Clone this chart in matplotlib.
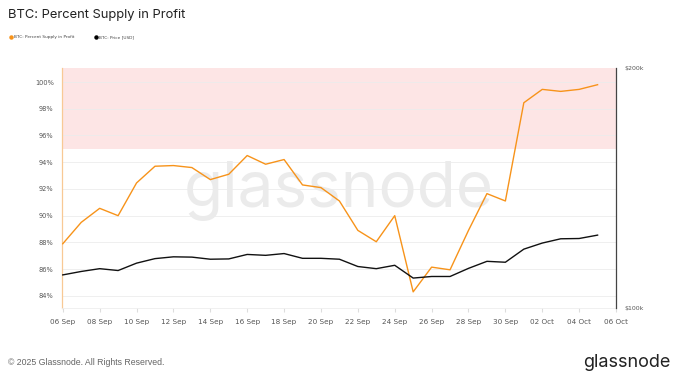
## ============================================================
## BTC: Percent Supply in Profit (glassnode style chart)
## ============================================================
import pandas as pd
import numpy as np
import matplotlib.pyplot as plt
import matplotlib.dates as mdates
from matplotlib.lines import Line2D
from matplotlib.ticker import NullLocator, FixedLocator

## ------------------------------------------------------------
## data (daily, 06 Sep -> 05 Oct)
## ------------------------------------------------------------
dates = pd.date_range("2025-09-06", "2025-10-05", freq="D")

supply_profit = [87.9, 89.5, 90.55, 90.0, 92.45, 93.7, 93.75, 93.6, 92.7, 93.1,
                 94.5, 93.85, 94.2, 92.3, 92.1, 91.1, 88.9, 88.05, 90.0, 84.3,
                 86.15, 85.95, 88.9, 91.65, 91.1, 98.45, 99.45, 99.3, 99.45, 99.8]

btc_price = [110.0, 111.1, 112.0, 111.4, 113.8, 115.3, 115.9, 115.8, 115.1, 115.2,
             116.7, 116.4, 117.0, 115.4, 115.4, 115.1, 112.7, 112.0, 113.1, 109.0,
             109.5, 109.5, 112.1, 114.4, 114.1, 118.5, 120.6, 122.1, 122.2, 123.4]
btc_price = [p * 1000 for p in btc_price]

pct_ticks    = [84, 86, 88, 90, 92, 94, 96, 98, 100]
price_ticks  = [100000, 200000]
price_labels = ["$100k", "$200k"]
legend_labels = ["BTC: Percent Supply in Profit", "BTC: Price [USD]"]

ORANGE = "#f7931a"
GREY   = "#555555"

## ------------------------------------------------------------
## figure
## ------------------------------------------------------------
fig = plt.figure(figsize=(6.86, 3.82), dpi=100)
ax = fig.add_axes([0.0904, 0.194, 0.8076, 0.628])

# red zone (> 95%)
ax.axhspan(95, 101.05, color="#fde5e5", zorder=0, lw=0)

# watermark, behind the lines
ax.text(0.494, 0.503, "glassnode", transform=fig.transFigure, fontsize=46,
        color="#ebebeb", ha="center", va="center", family="Inter", zorder=1)

ax.plot(dates, supply_profit, color=ORANGE, lw=1.0, zorder=3)
ax.set_ylim(83.1, 101.05)
ax.set_xlim(pd.Timestamp("2025-09-05 23:00"), pd.Timestamp("2025-10-06"))

ax.yaxis.set_major_locator(FixedLocator(pct_ticks))
ax.set_yticklabels([f"{t}%" for t in pct_ticks])
ax.grid(axis="y", color="#ececec", lw=0.6, zorder=1)
ax.set_axisbelow(True)

ax.xaxis.set_major_locator(mdates.DayLocator(bymonthday=list(range(2, 31, 2))))
ax.xaxis.set_major_formatter(mdates.DateFormatter("%d %b"))

ax.tick_params(axis="y", length=0, labelsize=4.8, labelcolor=GREY, pad=6)
ax.tick_params(axis="x", length=3, color="#dddddd", labelsize=5.2, labelcolor=GREY, pad=5)

for s in ["top", "right"]:
    ax.spines[s].set_visible(False)
ax.spines["left"].set_color("#f8c995")
ax.spines["left"].set_linewidth(0.9)
ax.spines["bottom"].set_color("#eeeeee")
ax.spines["bottom"].set_linewidth(0.6)

## price axis (log)
ax2 = ax.twinx()
ax2.plot(dates, btc_price, color="#111111", lw=1.0, zorder=3)
ax2.set_yscale("log")
ax2.set_ylim(100000, 200000)
ax2.yaxis.set_major_locator(FixedLocator(price_ticks))
ax2.yaxis.set_minor_locator(NullLocator())
ax2.set_yticklabels(price_labels)
ax2.tick_params(axis="y", length=0, labelsize=4.5, labelcolor=GREY, pad=6)
for s in ["top", "left", "bottom"]:
    ax2.spines[s].set_visible(False)
ax2.spines["right"].set_color("#444444")
ax2.spines["right"].set_linewidth(0.9)

## title / legend
fig.text(0.011, 0.962, "BTC: Percent Supply in Profit", fontsize=9.3, color="#222222",
         family="Inter", va="center")

leg_y = 0.903
for x_dot, col, lab in [(0.016, ORANGE, legend_labels[0]), (0.140, "black", legend_labels[1])]:
    fig.add_artist(Line2D([x_dot], [leg_y], marker="o", ls="", color=col, markersize=2.2,
                          transform=fig.transFigure))
    fig.text(x_dot + 0.0045, leg_y, lab, fontsize=3.1, color="#444444", va="center")

## footer
fig.text(0.011, 0.052, "\u00a9 2025 Glassnode. All Rights Reserved.", fontsize=6.3,
         color="#666666", va="center", family="Liberation Sans")
fig.text(0.977, 0.05, "glassnode", fontsize=13, color="#222222", ha="right", va="center",
         family="Inter")

fig.savefig("out.png", dpi=100)
